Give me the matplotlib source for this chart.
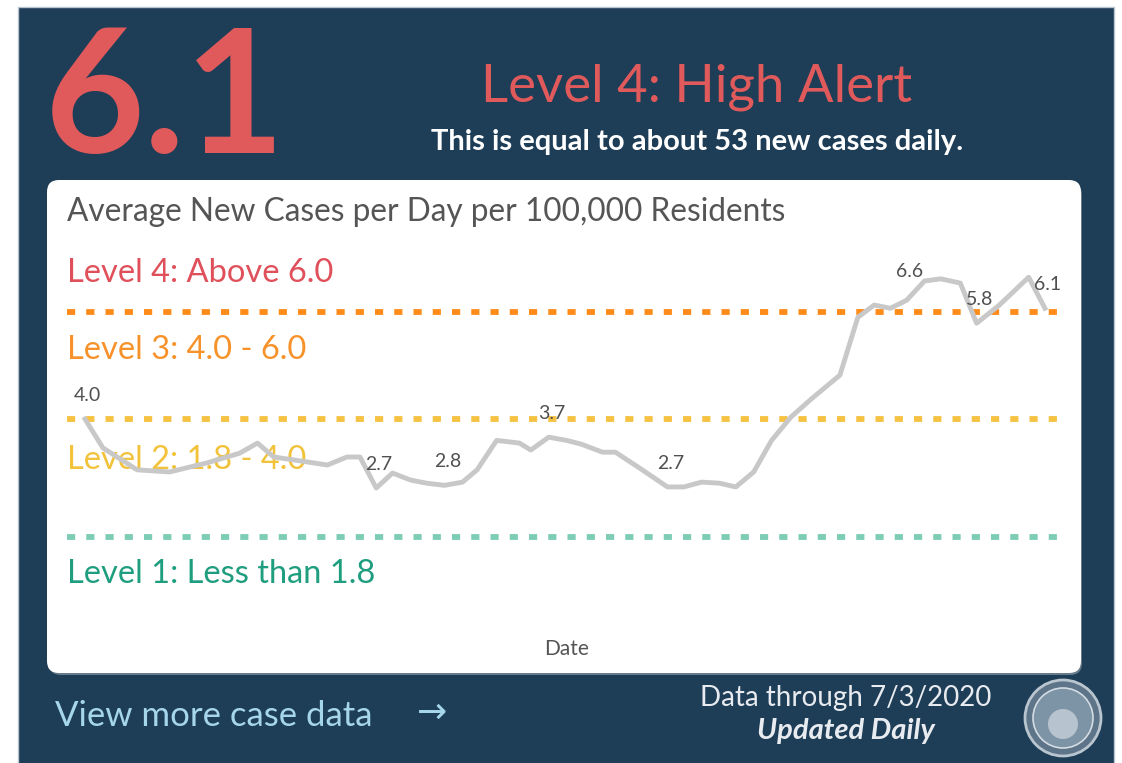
import matplotlib
matplotlib.use("Agg")
import matplotlib.pyplot as plt
from matplotlib.patches import FancyBboxPatch, Circle, Rectangle

# Data (day index from start of window, 7-day avg rate)
days = [0, 1.1, 3.2, 5.2, 7.5, 9.5, 10.6, 11.6, 13.6, 14.9, 16.1, 16.9, 17.9,
        18.9, 20.0, 21.0, 22.1, 23.2, 24.1, 25.3, 26.7, 27.4, 28.5, 29.6, 30.5,
        31.8, 32.6, 34.0, 35.8, 36.8, 37.9, 39.0, 40.0, 41.1, 42.2, 43.4, 44.7,
        46.4, 47.5, 48.5, 49.5, 50.5, 51.6, 52.6, 53.8, 54.8, 56.2, 58.0, 59.0]
rate = [4.0, 3.46, 3.05, 3.01, 3.18, 3.36, 3.55, 3.29, 3.2, 3.14, 3.29, 3.29, 2.71,
        2.99, 2.86, 2.8, 2.76, 2.82, 3.05, 3.6, 3.55, 3.42, 3.66, 3.6, 3.53,
        3.38, 3.38, 3.1, 2.73, 2.73, 2.82, 2.8, 2.73, 3.01, 3.6, 4.04, 4.39,
        4.82, 5.9, 6.13, 6.07, 6.22, 6.58, 6.62, 6.54, 5.79, 6.13, 6.65, 6.07]

# labelled points: index into the series, label text
label_idx = [0, 12, 16, 22, 28, 42, 45, 48]
label_txt = ["4.0", "2.7", "2.8", "3.7", "2.7", "6.6", "5.8", "6.1"]

thresholds = [6.0, 4.0, 1.8]
threshold_colors = ["#FF8C1A", "#F5C242", "#7DCDB6"]
level_names = ["Level 4: Above 6.0", "Level 3: 4.0 - 6.0",
               "Level 2: 1.8 - 4.0", "Level 1: Less than 1.8"]
level_colors = ["#E0505A", "#F7922B", "#F2C23A", "#1F9E7F"]

W, H = 1122, 763
NAVY = "#1E3D57"
RED = "#E05A5C"

fig = plt.figure(figsize=(W / 100, H / 100), dpi=100)
fig.patch.set_facecolor("white")

# background axes in pixel coordinates
bg = fig.add_axes([0, 0, 1, 1])
bg.set_xlim(0, W)
bg.set_ylim(H, 0)
bg.axis("off")

bg.add_patch(Rectangle((18, 7), 1096, 760, facecolor=NAVY, edgecolor="#B8C4CE", lw=1))
bg.add_patch(FancyBboxPatch((49, 183), 1033, 492, boxstyle="round,pad=0,rounding_size=12",
                            facecolor="#9AA6B0", edgecolor="none", alpha=0.6))
bg.add_patch(FancyBboxPatch((47, 180), 1034, 493, boxstyle="round,pad=0,rounding_size=12",
                            facecolor="white", edgecolor="none"))

bg.text(165, 104, "6.1", color=RED, fontsize=124, fontweight="bold", family="Lato",
        ha="center", va="center")
bg.text(697, 87, "Level 4: High Alert", color=RED, fontsize=38, fontweight="normal",
        family="Lato", ha="center", va="center")
bg.text(697, 142, "This is equal to about 53 new cases daily.", color="white",
        fontsize=21, fontweight="bold", family="Lato", ha="center", va="center")

bg.text(67, 212, "Average New Cases per Day per 100,000 Residents", color="#555555",
        fontsize=22.8, family="Lato", ha="left", va="center")

level_y = [273, 350, 460, 574]
for name, col, yy in zip(level_names, level_colors, level_y):
    bg.text(67, yy, name, color=col, fontsize=23.5, family="Lato", ha="left", va="center")

bg.text(567, 649, "Date", color="#555555", fontsize=15, family="Lato", ha="center", va="center")

# footer
bg.text(55, 716, "View more case data", color="#A6D6EC", fontsize=25, family="Lato",
        ha="left", va="center")
bg.text(432, 713, "\u2192", color="#A6D6EC", fontsize=26, family="DejaVu Sans",
        ha="center", va="center")
bg.text(846, 698, "Data through 7/3/2020", color="#E8ECF0", fontsize=20, family="Lato",
        ha="center", va="center")
bg.text(846, 731, "Updated Daily", color="#E8ECF0", fontsize=21, family="Lato",
        fontweight="bold", style="italic", ha="center", va="center")

# city seal (simple stand-in)
bg.add_patch(Circle((1063, 718), 38, facecolor="#5E7488", edgecolor="#B9C5CF", lw=2))
bg.add_patch(Circle((1063, 718), 30, facecolor="#7D93A6", edgecolor="#D4DCE3", lw=1.2))
bg.add_patch(Circle((1063, 724), 15, facecolor="#B7C4CF", edgecolor="none"))

# chart axes: pixel mapping y -> 6.0 at 312, 4.0 at 419
px_per_unit = 53.5
top_px, bot_px = 185, 670
left_px, right_px = 47, 1080
ax = fig.add_axes([left_px / W, (H - bot_px) / H, (right_px - left_px) / W, (bot_px - top_px) / H])
ax.patch.set_alpha(0)
ax.set_ylim(6 - (bot_px - 312) / px_per_unit, 6 + (312 - top_px) / px_per_unit)
day_px = 16.27
ax.set_xlim((left_px - 85) / day_px, (right_px - 85) / day_px)
ax.axis("off")

x0 = (67 - left_px) / (right_px - left_px)
x1 = (1068 - left_px) / (right_px - left_px)
for t, c in zip(thresholds, threshold_colors):
    ax.axhline(t, xmin=x0, xmax=x1, color=c, lw=4.2, linestyle=(0, (1.4, 1.9)),
               dash_capstyle="butt", zorder=2)

ax.plot(days, rate, color="#C8C8C8", lw=3.5, solid_joinstyle="round", zorder=3)

label_offsets = {5: (-11, 7)}
for k, (i, txt) in enumerate(zip(label_idx, label_txt)):
    dx, dy = label_offsets.get(k, (2, 17))
    ax.annotate(txt, (days[i], rate[i]), xytext=(dx, dy), textcoords="offset points",
                ha="center", va="center", fontsize=14, color="#505050",
                family="Lato", zorder=4)

fig.savefig("out.png", dpi=100, facecolor=fig.get_facecolor())
